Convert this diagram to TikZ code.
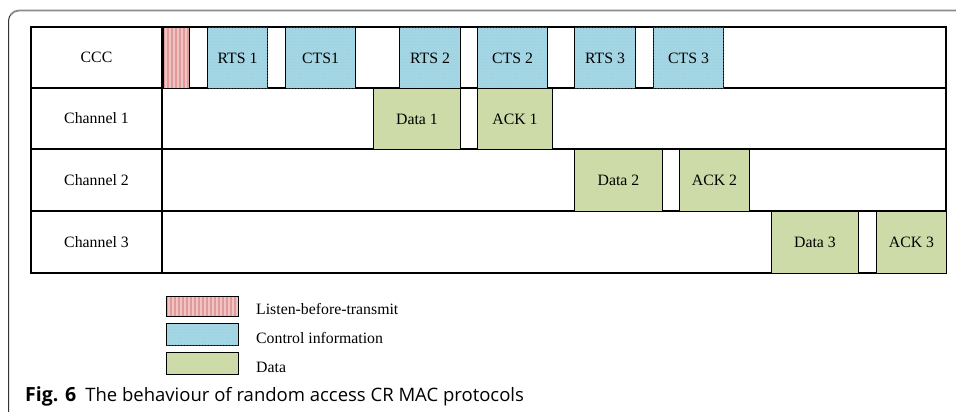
\documentclass[tikz,border=0pt]{standalone}
\usepackage{fontspec}
\setmainfont{Liberation Serif}
\newfontfamily\capfont{Open Sans}
\usetikzlibrary{patterns.meta}
\definecolor{lbtred}{HTML}{E09A9A}
\definecolor{lbtlight}{HTML}{F0C4C4}
\definecolor{ctrlblue}{HTML}{A0D4E2}
\definecolor{ctrllight}{HTML}{B8DFEA}
\definecolor{datagreen}{HTML}{CDDBA8}
\definecolor{framegray}{HTML}{8A8A8A}
\tikzset{
  blk/.style={draw=black, line width=1pt, inner sep=0pt, anchor=north west},
  lbt/.style={blk, fill=lbtred, path picture={
      \foreach \k in {0,...,18}
        \draw[lbtlight, line width=1.5pt]
          ([xshift=\k*4pt+2.5pt]path picture bounding box.south west) --
          ([xshift=\k*4pt+2.5pt]path picture bounding box.north west);}},
  ctrl/.style={blk, fill=ctrlblue, postaction={pattern={Dots[distance=3pt, radius=0.6pt]}, pattern color=ctrllight}},
  datablk/.style={blk, fill=datagreen},
  lbl/.style={font=\fontsize{15.8}{19}\selectfont},
  leg/.style={font=\fontsize{15.8}{19}\selectfont, anchor=base west, inner sep=0pt}
}
% block from x1 to x2 in a row (top y, height)
\newcommand{\slot}[7]{\node[#1, minimum width=#5pt-#4pt, minimum height=#7pt, lbl] (#2) at (#4,#6) {#3};}
\begin{document}
\begin{tikzpicture}[x=1pt,y=-1pt]
			\useasboundingbox (0,0) rectangle (956,412);
			
			%%%%% frame %%%%%
			\draw[black!80, line width=1pt] (8.5,412) -- (8.5,21) arc (180:225:10.5);
			\draw[framegray, line width=1.8pt] (956,10.5) -- (19,10.5) arc (270:215:10.5);
			
			%%%%% table %%%%%
			\draw[line width=1.3pt] (31,27) rectangle (946,273);
			\draw[line width=1.3pt] (31,88) -- (946,88);
			\draw[line width=1.3pt] (31,149) -- (946,149);
			\draw[line width=1.3pt] (31,211) -- (946,211);
			\draw[line width=1.3pt] (162,27) -- (162,273);
			
			\node[lbl] (ccc) at (96.5,57.5) {CCC};
			\node[lbl] (ch1) at (96.5,118.5) {Channel 1};
			\node[lbl] (ch2) at (96.5,180) {Channel 2};
			\node[lbl] (ch3) at (96.5,242) {Channel 3};
			
			%%%%% CCC %%%%%
			\slot{lbt}{lbt1}{}{163}{189}{27}{61}
			\slot{ctrl}{rts1}{RTS 1}{207}{267}{27}{61}
			\slot{ctrl}{cts1}{CTS1}{285}{355}{27}{61}
			\slot{ctrl}{rts2}{RTS 2}{399}{460}{27}{61}
			\slot{ctrl}{cts2}{CTS 2}{477}{547}{27}{61}
			\slot{ctrl}{rts3}{RTS 3}{574}{635}{27}{61}
			\slot{ctrl}{cts3}{CTS 3}{653}{723}{27}{61}
			
			%%%%% channels %%%%%
			\slot{datablk}{data1}{Data 1}{373}{460}{88}{61}
			\slot{datablk}{ack1}{ACK 1}{477}{552}{88}{61}
			\slot{datablk}{data2}{Data 2}{574}{662}{149}{62}
			\slot{datablk}{ack2}{ACK 2}{679}{749}{149}{62}
			\slot{datablk}{data3}{Data 3}{771}{858}{211}{62}
			\slot{datablk}{ack3}{ACK 3}{876}{946}{211}{62}
			
			%%%%% legend %%%%%
			\slot{lbt}{leglbt}{}{166}{238}{296}{20}
			\slot{ctrl}{legctrl}{}{166}{238}{323}{22}
			\slot{datablk}{legdata}{}{166}{238}{352}{22}
			\node[leg] (txtlbt) at (256,314.5) {Listen-before-transmit};
			\node[leg] (txtctrl) at (256,343) {Control information};
			\node[leg] (txtdata) at (256,372) {Data};
			
			%%%%% caption %%%%%
			\node[anchor=base west, inner sep=0pt, font=\capfont\fontsize{18.5}{22}\selectfont] (cap) at (25,401)
			  {{\fontsize{19.5}{22}\selectfont\textbf{Fig. 6}}\hspace{9pt}The behaviour of random access CR MAC protocols};
		\end{tikzpicture}
\end{document}
